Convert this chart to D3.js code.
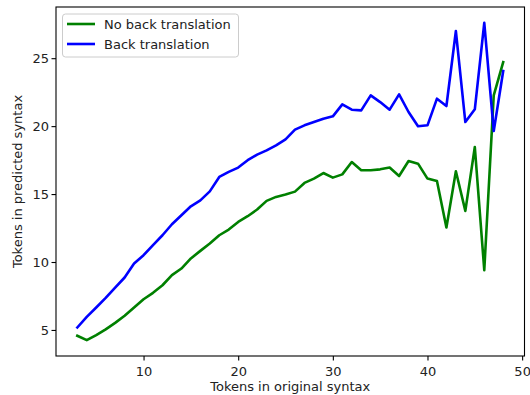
<!DOCTYPE html>
<html><head><meta charset="utf-8">
<script src="https://cdn.jsdelivr.net/npm/d3@7"></script>
<style>body{margin:0;background:#fff}svg{display:block}text{font-family:"DejaVu Sans",sans-serif}</style>
</head><body>
<svg id="c" width="530" height="395"></svg>
<script>
const xTokens = [3,4,5,6,7,8,9,10,11,12,13,14,15,16,17,18,19,20,21,22,23,24,25,26,27,28,29,30,31,32,33,34,35,36,37,38,39,40,41,42,43,44,45,46,47,48];
const noBack = [4.57,4.25,4.62,5.04,5.52,6.04,6.65,7.26,7.73,8.29,9.03,9.52,10.26,10.82,11.36,11.97,12.39,12.95,13.37,13.86,14.5,14.79,14.96,15.18,15.82,16.14,16.55,16.21,16.45,17.36,16.75,16.75,16.82,16.95,16.33,17.43,17.24,16.14,15.96,12.54,16.68,13.76,18.46,9.4,22.26,24.71];
const back = [5.18,5.96,6.65,7.36,8.12,8.86,9.89,10.5,11.24,11.97,12.78,13.44,14.1,14.54,15.2,16.26,16.63,16.95,17.49,17.9,18.22,18.59,19.03,19.74,20.06,20.3,20.55,20.72,21.6,21.21,21.16,22.26,21.77,21.21,22.34,21.04,19.99,20.06,22.02,21.48,27.0,20.3,21.24,27.6,19.64,24.05];
const seriesNames = ["No back translation","Back translation"];
const seriesColors = ["green","blue"];
const xTicks = [10,20,30,40,50];
const yTicks = [5,10,15,20,25];

const svg = d3.select("#c");
const L=56,R=524.5,T=7,B=356;
const allY = noBack.concat(back);
const xmin=d3.min(xTokens), xmax=d3.max(xTokens), xpad=(xmax-xmin)*0.05;
const ymin=d3.min(allY), ymax=d3.max(allY), ypad=(ymax-ymin)*0.05;
const x = d3.scaleLinear().domain([xmin-xpad,xmax+xpad]).range([L,R]);
const y = d3.scaleLinear().domain([ymin-ypad,ymax+ypad]).range([B,T]);

const line = d3.line().x((d,i)=>x(xTokens[i])).y(d=>y(d));
[noBack,back].forEach((s,k)=>{
  svg.append("path").attr("d",line(s)).attr("fill","none")
    .attr("stroke",seriesColors[k]).attr("stroke-width",2.6).attr("stroke-linejoin","round").attr("stroke-linecap","square");
});

const xa = svg.append("g").attr("transform",`translate(0,${B})`)
  .call(d3.axisBottom(x).tickValues(xTicks).tickSize(4.5).tickPadding(6).tickFormat(d3.format("d")));
const ya = svg.append("g").attr("transform",`translate(${L},0)`)
  .call(d3.axisLeft(y).tickValues(yTicks).tickSize(4.5).tickPadding(2.5).tickFormat(d3.format("d")));
[xa,ya].forEach(a=>{a.select(".domain").remove();a.selectAll("text").attr("font-size",13).attr("fill","#222").attr("font-family","DejaVu Sans");a.selectAll("line").attr("stroke","#000").attr("stroke-width",1.1);});

svg.append("rect").attr("x",L).attr("y",T).attr("width",R-L).attr("height",B-T)
  .attr("fill","none").attr("stroke","#000").attr("stroke-width",1.1);

svg.append("text").attr("x",(L+R)/2).attr("y",391).attr("text-anchor","middle").attr("font-size",13).attr("fill","#222").text("Tokens in original syntax");
svg.append("text").attr("transform",`translate(21.5,${(T+B)/2}) rotate(-90)`).attr("text-anchor","middle").attr("font-size",13).attr("fill","#222").text("Tokens in predicted syntax");

const lg = svg.append("g");
lg.append("rect").attr("x",62.5).attr("y",14).attr("width",176).attr("height",43).attr("rx",3)
  .attr("fill","#fff").attr("fill-opacity",0.8).attr("stroke","#ccc").attr("stroke-width",1);
seriesNames.forEach((n,k)=>{
  const yy = 24+k*20;
  lg.append("line").attr("x1",67).attr("x2",95).attr("y1",yy).attr("y2",yy).attr("stroke",seriesColors[k]).attr("stroke-width",2.6);
  lg.append("text").attr("x",104).attr("y",yy+4.6).attr("font-size",13).attr("fill","#222").text(n);
});
</script>
</body></html>
